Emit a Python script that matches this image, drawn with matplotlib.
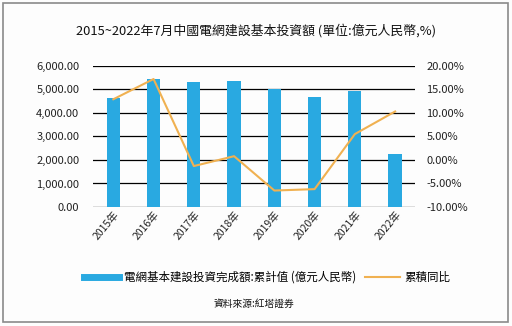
import matplotlib
matplotlib.use('Agg')
import matplotlib.pyplot as plt
from matplotlib.lines import Line2D
from matplotlib.patches import Rectangle
from matplotlib.ticker import FuncFormatter
import numpy as np

plt.rcParams['font.family'] = ['Noto Sans CJK TC', 'DejaVu Sans']

years = ['2015年', '2016年', '2017年', '2018年', '2019年', '2020年', '2021年', '2022年']
invest = [4640, 5450, 5320, 5360, 5020, 4680, 4940, 2250]
yoy = [12.9, 17.2, -1.3, 0.8, -6.5, -6.2, 5.5, 10.3]

bar_color = '#29a9e1'
line_color = '#f0b151'

fig = plt.figure(figsize=(5.12, 3.26), dpi=100, facecolor='#fdfdfd')
fig.patches.append(Rectangle((0.006, 0.012), 0.987, 0.978, transform=fig.transFigure,
                             fill=False, edgecolor='#8a8a8a', linewidth=1.2))

ax = fig.add_axes([0.182, 0.365, 0.629, 0.433])
ax.set_facecolor('none')
x = np.arange(len(years))
ax.bar(x, invest, width=0.33, color=bar_color, zorder=2)
ax.set_xlim(-0.5, len(years) - 0.5)
ax.set_ylim(0, 6000)
ax.set_yticks(np.arange(0, 6001, 1000))
ax.yaxis.set_major_formatter(FuncFormatter(lambda v, p: f'{v:,.2f}'))
ax.grid(axis='y', color='black', linewidth=0.9, zorder=0)
ax.set_axisbelow(True)
for s in ax.spines.values():
    s.set_visible(False)
ax.tick_params(axis='y', length=0, labelsize=8, pad=10, colors='#222222')
ax.tick_params(axis='x', length=0, labelsize=7.5, colors='#222222', pad=2)
ax.set_xticks(x)
ax.set_xticklabels(years, rotation=50, ha='right', rotation_mode='anchor')

ax2 = ax.twinx()
ax2.plot(x, yoy, color=line_color, linewidth=1.5, zorder=3)
ax2.set_ylim(-10, 20)
ax2.set_yticks(np.arange(-10, 21, 5))
ax2.yaxis.set_major_formatter(FuncFormatter(lambda v, p: f'{v:.2f}%'))
for s in ax2.spines.values():
    s.set_visible(False)
ax2.tick_params(axis='y', length=0, labelsize=8, pad=8, colors='#222222')

fig.text(0.5, 0.905, '2015~2022年7月中國電網建設基本投資額 (單位:億元人民幣,%)',
         ha='center', va='center', fontsize=9.3, color='#111111')

handles = [Line2D([0], [0], color=bar_color, linewidth=5),
           Line2D([0], [0], color=line_color, linewidth=1.5)]
fig.legend(handles, ['電網基本建設投資完成額:累計值 (億元人民幣)', '累積同比'],
           loc='center', bbox_to_anchor=(0.522, 0.15), ncol=2, frameon=False,
           fontsize=8.3, handlelength=3.0, columnspacing=0.8, handletextpad=0.4)

fig.text(0.495, 0.068, '資料來源:紅塔證券', ha='center', va='center', fontsize=7, color='#111111')

fig.savefig('out.png', dpi=100, facecolor=fig.get_facecolor())
